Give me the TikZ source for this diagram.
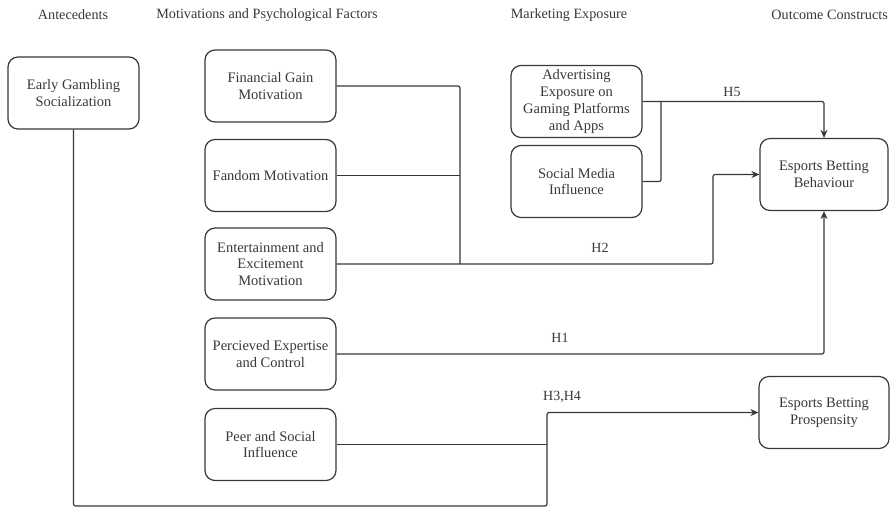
\documentclass[tikz,border=0pt]{standalone}
\usepackage{fontspec}
\setmainfont{Liberation Serif}
\usetikzlibrary{positioning,arrows.meta}
\usepackage{xcolor}
\definecolor{inkgray}{HTML}{383838}

\begin{document}
\begin{tikzpicture}[x=1pt,y=-1pt,
  box/.style={draw=inkgray,line width=1.2pt,rounded corners=10pt,minimum width=131pt,
              minimum height=72pt,align=center,inner sep=2pt,text=inkgray,
              font=\rmfamily\fontsize{14.5}{16.8}\selectfont},
  link/.style={draw=inkgray,line width=1.2pt,rounded corners=2pt},
  hlbl/.style={font=\rmfamily\fontsize{14}{16}\selectfont,text=inkgray},
  colhead/.style={font=\rmfamily\fontsize{14.2}{16}\selectfont,text=inkgray},
  >={Stealth[length=8pt,width=7pt]}]
  \useasboundingbox (0,0) rectangle (890,507);
  % column headings
  \foreach \x/\nm/\lbl in {73/hant/{Antecedents}, 267/hmot/{Motivations and Psychological Factors},
                           569/hmkt/{Marketing Exposure}} {
    \node[colhead] (\nm) at (\x,15) {\lbl};
  }
  \node[colhead,anchor=east,inner xsep=1pt] (hout) at (889,15) {Outcome Constructs};
  % constructs
  \node[box] (egs) at (73.5,93) {Early Gambling\\Socialization};
  \foreach \y/\nm/\lbl in {
    86/fgm/{Financial Gain\\Motivation},
    175.5/fm/{Fandom Motivation},
    264/eem/{Entertainment and\\Excitement\\Motivation},
    354/pec/{Percieved Expertise\\and Control},
    444.5/psi/{Peer and Social\\Influence}} {
    \node[box] (\nm) at (270.5,\y) {\lbl};
  }
  \node[box] (adv) at (576.5,101.5) {Advertising\\Exposure on\\Gaming Platforms\\and Apps};
  \node[box] (smi) at (576.5,181.5) {Social Media\\Influence};
  \node[box,minimum width=128pt] (bhv) at (824,174.5) {Esports Betting\\Behaviour};
  \node[box,minimum width=130pt] (prp) at (824,412.5) {Esports Betting\\Prospensity};
  % junctions
  \coordinate (jfin) at (460,264);
  \coordinate (jent) at (713,0);
  \coordinate (jsoc) at (661,0);
  \coordinate (jpeer) at (547,506);
  % paths
  \draw[link] (fgm.east) -| (jfin);
  \draw[link] (fm.east) -- (fm.east -| jfin);
  \draw[link,->] (eem.east) -- (eem.east -| jent) |- (bhv.west);
  \draw[link,->] (adv.east) -| (bhv.north);
  \draw[link] (smi.east) -| (jsoc |- adv.east);
  \draw[link,->] (pec.east) -| (bhv.south);
  \draw[link] (psi.east) -- (psi.east -| jpeer);
  \draw[link,->] (egs.south) |- (jpeer) |- (prp.west);
  % hypotheses
  \node[hlbl] (h5) at (732,92) {H5};
  \node[hlbl] (h2) at (600,248) {H2};
  \node[hlbl] (h1) at (560,338) {H1};
  \node[hlbl] (h34) at (562,397) {H3,H4};
\end{tikzpicture}
\end{document}
